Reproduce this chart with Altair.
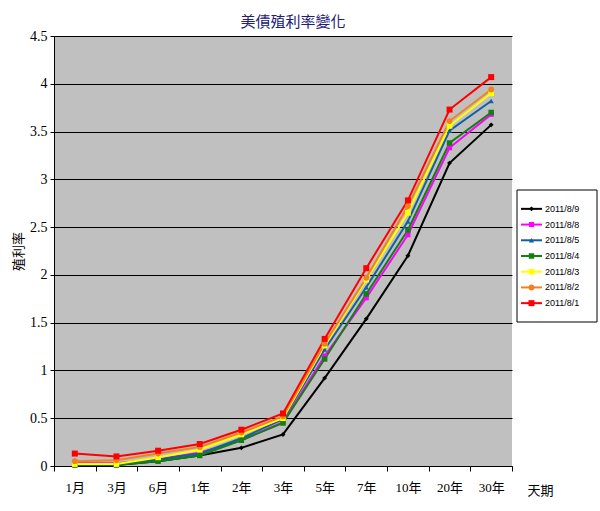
import altair as alt
import pandas as pd

tenors = ["1月", "3月", "6月", "1年", "2年", "3年", "5年", "7年", "10年", "20年", "30年"]
series = ["2011/8/9", "2011/8/8", "2011/8/5", "2011/8/4", "2011/8/3", "2011/8/2", "2011/8/1"]

y_0809 = [0.01, 0.01, 0.05, 0.11, 0.19, 0.33, 0.92, 1.54, 2.20, 3.17, 3.57]
y_0808 = [0.03, 0.03, 0.07, 0.14, 0.27, 0.46, 1.15, 1.76, 2.42, 3.33, 3.68]
y_0805 = [0.01, 0.02, 0.07, 0.13, 0.29, 0.49, 1.22, 1.87, 2.56, 3.51, 3.82]
y_0804 = [0.01, 0.01, 0.05, 0.11, 0.27, 0.45, 1.12, 1.80, 2.47, 3.38, 3.70]
y_0803 = [0.02, 0.02, 0.09, 0.17, 0.33, 0.50, 1.26, 1.95, 2.65, 3.56, 3.90]
y_0802 = [0.05, 0.06, 0.13, 0.20, 0.35, 0.52, 1.28, 1.97, 2.72, 3.61, 3.94]
y_0801 = [0.13, 0.10, 0.16, 0.23, 0.38, 0.55, 1.33, 2.07, 2.78, 3.73, 4.07]
values = [y_0809, y_0808, y_0805, y_0804, y_0803, y_0802, y_0801]

colors = ["#000000", "#ff00ff", "#1060a8", "#108010", "#ffff00", "#f08020", "#ff0000"]
shapes = ["diamond", "square", "triangle-up", "square", "square", "circle", "square"]
sizes = [24, 36, 40, 36, 64, 24, 40]

rows = []
for s, vals in zip(series, values):
    for t, v in zip(tenors, vals):
        rows.append({"series": s, "tenor": t, "value": v})
df = pd.DataFrame(rows)
legend_df = pd.DataFrame({"series": series})

color_enc = alt.Color("series:N", scale=alt.Scale(domain=series, range=colors), legend=None)
shape_enc = alt.Shape("series:N", scale=alt.Scale(domain=series, range=shapes), legend=None)
size_enc = alt.Size("series:N", scale=alt.Scale(domain=series, range=sizes), legend=None)

serif = "Liberation Serif, Times New Roman, serif"
cjk_serif = "Liberation Serif, Noto Sans CJK TC, serif"

x_enc = alt.X(
    "tenor:N", sort=tenors, bandPosition=0.5,
    scale=alt.Scale(type="band", paddingInner=0, paddingOuter=0),
    axis=alt.Axis(title="天期", labelAngle=0, tickBand="extent", grid=False,
                  domainColor="#000000", tickColor="#000000", tickSize=5,
                  labelFont=cjk_serif, labelFontSize=13, labelColor="#000000", labelPadding=10,
                  titleFont=cjk_serif, titleFontSize=13, titleFontWeight="normal", titleColor="#000000",
                  titleX=486, titleY=24, titleAlign="center", titleBaseline="middle"),
)
y_enc = alt.Y(
    "value:Q", scale=alt.Scale(domain=[0, 4.5], nice=False),
    axis=alt.Axis(title="殖利率", values=[0, 0.5, 1, 1.5, 2, 2.5, 3, 3.5, 4, 4.5], format=".1~f",
                  grid=True, gridColor="#000000", gridWidth=1,
                  domainColor="#000000", tickColor="#000000", tickSize=4,
                  labelFont=serif, labelFontSize=14, labelColor="#000000", labelPadding=3,
                  titleFont=cjk_serif, titleFontSize=13, titleFontWeight="normal", titleColor="#000000",
                  titleX=-36, titleY=215, titleAlign="center", titleBaseline="middle"),
)

lines = alt.Chart(df).mark_line(strokeWidth=2).encode(
    x=x_enc, y=y_enc, color=color_enc, detail="series:N"
)
points = alt.Chart(df).mark_point(filled=True, opacity=1, strokeWidth=0).encode(
    x=alt.X("tenor:N", sort=tenors, bandPosition=0.5),
    y=alt.Y("value:Q"),
    color=color_enc, shape=shape_enc, size=size_enc,
)
main = alt.layer(lines, points)

leg_y = alt.Y("series:N", sort=series, scale=alt.Scale(range=[165, 275], padding=0), axis=None)
leg_box = alt.Chart(legend_df.head(1)).mark_rect(fill="#ffffff", stroke="#000000", strokeWidth=1).encode(
    x=alt.value(463), x2=alt.value(543), y=alt.value(154), y2=alt.value(286)
)
leg_rule = alt.Chart(legend_df).mark_rule(strokeWidth=2).encode(
    x=alt.value(467), x2=alt.value(488), y=leg_y, color=color_enc
)
leg_pt = alt.Chart(legend_df).mark_point(filled=True, opacity=1, strokeWidth=0).encode(
    x=alt.value(477.5), y=leg_y, color=color_enc, shape=shape_enc, size=size_enc
)
leg_txt = alt.Chart(legend_df).mark_text(align="left", baseline="middle", font="Liberation Sans",
                                         fontSize=9, color="#000000").encode(
    x=alt.value(491), y=leg_y, text="series:N"
)
legend = alt.layer(leg_box, leg_rule, leg_pt, leg_txt)

chart = alt.layer(main, legend).resolve_scale(y="independent").properties(
    width=458, height=430,
    autosize=alt.AutoSizeParams(type="none"),
    padding={"left": 54, "top": 36, "right": 88, "bottom": 45},
    background="#ffffff",
    title=alt.TitleParams("美債殖利率變化", anchor="middle", fontSize=15, font="Noto Sans CJK TC",
                          fontWeight="normal", color="#20207a", offset=2, dx=10, dy=3),
).configure_view(fill="#c0c0c0", strokeWidth=0)

chart.save("out.html", embed_options={"renderer": "svg", "actions": False})
